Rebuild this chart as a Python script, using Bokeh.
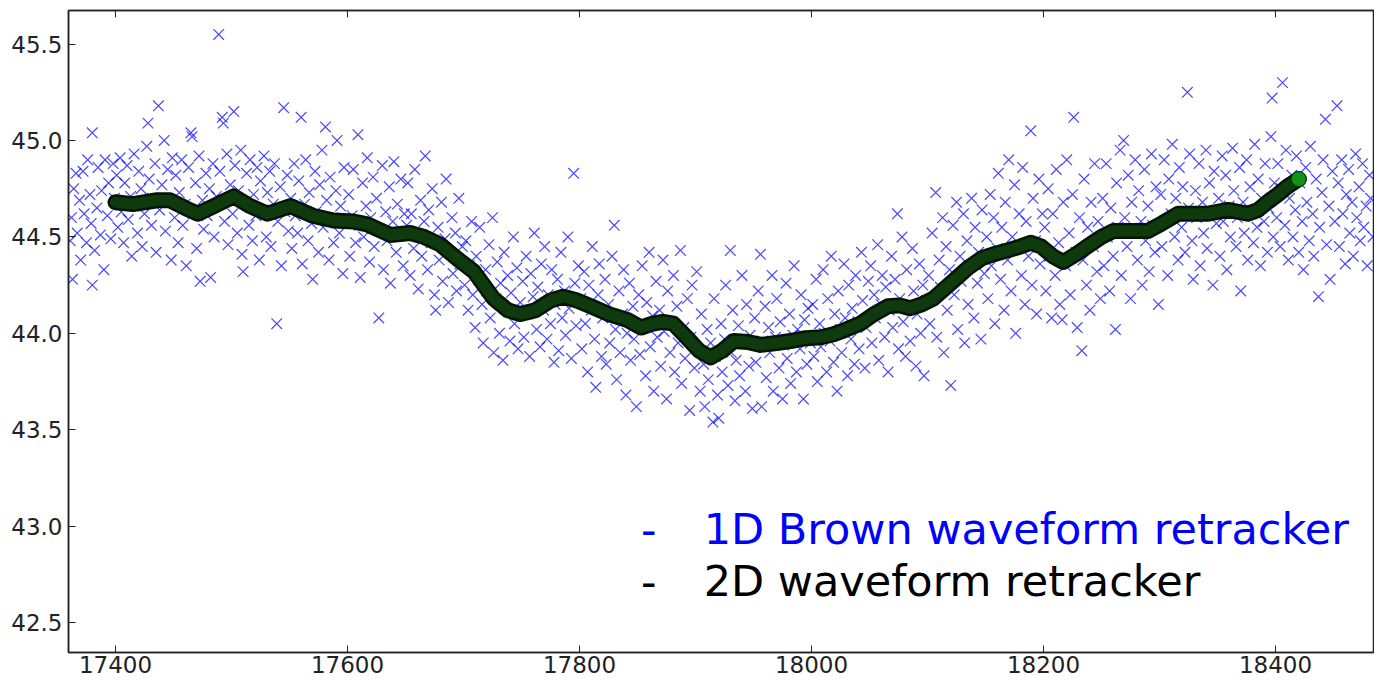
from bokeh.plotting import figure
from bokeh.models import Range1d, LinearAxis, FixedTicker, Label, NumeralTickFormatter
from bokeh.embed import file_html
from bokeh.resources import INLINE

# ---- 1D Brown waveform retracker (blue crosses) ----
scatter_1d = [
    (17361,44.48),(17362,44.60),(17363,44.28),(17364,44.75),(17366,44.83),(17367,44.52),(17369,44.69),(17370,44.38),(17372,44.84),(17373,44.62),(17375,44.47),(17376,44.90),(17378,44.72),(17379,44.57),(17380,45.04),(17380,44.25),(17382,44.43),(17384,44.65),(17385,44.86),(17387,44.51),(17388,44.74),(17390,44.33),(17391,44.90),(17393,44.61),(17394,44.78),(17396,44.49),(17398,44.88),(17399,44.70),
    (17401,44.82),(17402,44.55),(17404,44.91),(17405,44.63),(17407,44.47),(17408,44.78),(17410,44.87),(17411,44.59),(17413,44.71),(17414,44.40),(17416,44.93),(17417,44.66),(17419,44.52),(17420,44.84),(17422,44.75),(17423,44.45),(17425,44.62),(17427,44.97),(17428,45.09),(17429,44.80),(17431,44.56),(17432,44.70),(17434,44.88),(17435,44.42),(17437,45.18),(17438,44.64),(17440,44.77),(17442,45.00),(17443,44.53),(17445,44.85),(17446,44.68),(17448,44.38),(17449,44.91),
    (17451,44.60),(17452,44.82),(17454,44.47),(17455,44.73),(17457,44.90),(17458,44.56),(17460,44.67),(17461,44.35),(17463,44.86),(17465,45.04),(17466,45.02),(17467,44.62),(17469,44.78),(17470,44.44),(17472,44.92),(17473,44.27),(17475,44.69),(17476,44.54),(17478,44.83),(17479,44.61),(17481,44.75),(17482,44.29),(17484,44.88),(17485,44.50),(17487,44.71),(17489,45.55),(17490,44.84),(17492,45.12),(17493,45.09),(17494,44.58),(17496,44.93),(17497,44.46),(17499,44.77),
    (17501,44.62),(17502,45.15),(17503,44.87),(17505,44.52),(17506,44.74),(17508,44.95),(17509,44.41),(17510,44.32),(17512,44.68),(17513,44.83),(17515,44.56),(17516,44.90),(17518,44.48),(17519,44.72),(17521,44.61),(17522,44.86),(17524,44.38),(17525,44.79),(17527,44.64),(17528,44.92),(17530,44.50),(17531,44.73),(17533,44.84),(17534,44.45),(17536,44.67),(17537,44.88),(17539,44.05),(17540,44.58),(17542,44.76),(17543,44.35),(17545,45.17),(17546,44.63),(17548,44.82),(17549,44.53),
    (17551,44.70),(17552,44.44),(17554,44.88),(17555,44.61),(17557,44.52),(17558,44.79),(17560,45.12),(17561,44.36),(17563,44.67),(17564,44.90),(17566,44.48),(17567,44.73),(17569,44.57),(17570,44.28),(17572,44.84),(17573,44.63),(17575,44.42),(17576,44.77),(17578,44.95),(17579,44.55),(17581,45.07),(17582,44.69),(17584,44.38),(17585,44.81),(17587,44.60),(17588,44.47),(17590,44.74),(17591,45.00),(17593,44.52),(17594,44.66),(17596,44.31),(17597,44.86),(17599,44.58),
    (17601,44.72),(17602,44.40),(17604,44.61),(17605,44.85),(17607,44.47),(17609,45.03),(17610,44.56),(17611,44.29),(17613,44.78),(17614,44.50),(17616,44.66),(17617,44.91),(17619,44.37),(17620,44.60),(17622,44.81),(17623,44.45),(17625,44.70),(17627,44.08),(17628,44.54),(17630,44.87),(17631,44.33),(17633,44.63),(17634,44.48),(17636,44.76),(17637,44.26),(17639,44.58),(17640,44.89),(17642,44.42),(17643,44.67),(17645,44.51),(17646,44.80),(17648,44.35),(17649,44.62),
    (17651,44.56),(17652,44.78),(17654,44.30),(17655,44.62),(17657,44.44),(17658,44.85),(17660,44.51),(17661,44.23),(17663,44.69),(17664,44.40),(17666,44.58),(17667,44.92),(17669,44.33),(17670,44.64),(17672,44.47),(17673,44.75),(17675,44.20),(17676,44.12),(17678,44.55),(17679,44.38),(17681,44.68),(17682,44.27),(17684,44.49),(17685,44.80),(17687,44.16),(17688,44.42),(17690,44.60),(17691,44.31),(17693,44.52),(17694,44.22),(17696,44.70),(17697,44.36),(17699,44.45),
    (17701,44.25),(17702,44.48),(17704,44.12),(17705,44.35),(17707,44.58),(17708,44.20),(17710,44.03),(17711,44.40),(17713,44.28),(17714,44.55),(17716,44.15),(17717,43.95),(17719,44.33),(17720,44.22),(17722,44.46),(17723,44.08),(17725,44.60),(17726,43.90),(17728,44.18),(17729,44.37),(17731,44.00),(17732,44.26),(17734,43.86),(17735,44.42),(17737,44.13),(17738,44.30),(17740,43.96),(17741,44.21),(17743,44.50),(17744,44.05),(17746,44.34),(17747,43.92),(17749,44.16),
    (17751,44.27),(17752,43.98),(17754,44.40),(17755,44.10),(17757,43.88),(17758,44.31),(17760,44.19),(17761,44.52),(17763,44.02),(17764,44.24),(17766,43.93),(17767,44.36),(17769,44.12),(17770,44.45),(17772,43.97),(17773,44.20),(17775,44.05),(17776,44.33),(17778,43.85),(17779,44.15),(17781,44.28),(17782,43.91),(17784,44.42),(17785,44.08),(17787,44.22),(17788,43.99),(17790,44.50),(17791,44.13),(17793,43.87),(17795,44.83),(17796,44.26),(17797,44.04),(17799,44.35),
    (17801,44.18),(17802,43.92),(17804,44.32),(17805,44.05),(17807,43.80),(17808,44.25),(17810,44.12),(17811,44.45),(17813,43.97),(17814,43.72),(17816,44.20),(17817,44.36),(17819,43.88),(17820,44.08),(17822,44.28),(17823,43.84),(17825,44.15),(17826,43.95),(17828,44.40),(17830,44.56),(17831,44.02),(17832,43.76),(17834,44.22),(17835,43.90),(17837,44.10),(17838,44.33),(17840,43.68),(17841,44.00),(17843,44.26),(17844,43.86),(17846,44.14),(17847,43.97),(17849,43.62),
    (17851,44.20),(17852,43.89),(17854,44.35),(17855,44.04),(17857,43.78),(17858,44.16),(17860,44.42),(17861,43.93),(17863,44.09),(17864,43.70),(17866,44.27),(17867,43.98),(17869,44.12),(17870,43.83),(17872,44.38),(17873,44.01),(17875,43.66),(17876,44.22),(17878,43.90),(17879,44.06),(17881,44.30),(17882,43.80),(17884,44.14),(17885,43.95),(17887,44.43),(17888,43.74),(17890,44.03),(17891,43.87),(17893,44.18),(17895,43.60),(17896,43.98),(17897,44.25),(17899,43.82),
    (17901,44.32),(17902,43.92),(17904,43.70),(17905,44.10),(17907,43.84),(17908,43.62),(17910,44.02),(17911,43.76),(17913,43.95),(17915,43.54),(17916,44.18),(17917,43.88),(17919,43.68),(17920,43.56),(17922,44.05),(17923,43.80),(17925,43.97),(17926,44.25),(17928,43.73),(17930,44.43),(17931,43.90),(17932,44.12),(17934,43.65),(17935,43.86),(17937,44.04),(17938,43.78),(17940,44.30),(17941,43.95),(17943,43.70),(17944,44.15),(17946,43.83),(17947,43.99),(17949,43.61),
    (17951,44.08),(17952,43.85),(17954,44.22),(17956,44.41),(17957,43.62),(17958,43.96),(17960,44.14),(17961,43.77),(17963,44.03),(17964,43.90),(17966,44.30),(17967,43.70),(17969,43.98),(17970,44.18),(17972,43.82),(17973,44.06),(17975,43.66),(17976,43.94),(17978,44.26),(17979,43.87),(17981,44.10),(17982,43.74),(17984,43.99),(17985,44.35),(17987,43.80),(17988,44.02),(17990,43.92),(17991,44.20),(17993,43.66),(17994,44.07),(17996,43.84),(17997,44.13),(17999,43.95),
    (18001,44.15),(18002,43.88),(18004,44.28),(18005,43.75),(18007,44.05),(18008,43.93),(18010,44.33),(18011,44.00),(18013,43.80),(18014,44.18),(18016,43.96),(18017,44.40),(18019,43.85),(18020,44.10),(18022,43.70),(18023,44.22),(18025,44.02),(18026,43.90),(18028,44.36),(18029,44.08),(18031,43.78),(18032,44.25),(18034,43.97),(18035,44.13),(18037,43.84),(18038,44.30),(18040,44.06),(18041,43.92),(18043,44.42),(18044,44.17),(18046,43.82),(18047,44.03),(18049,44.27),
    (18051,44.35),(18052,43.95),(18054,44.20),(18055,44.08),(18057,44.46),(18058,43.86),(18060,44.15),(18061,44.30),(18063,43.98),(18064,44.24),(18066,43.80),(18067,44.12),(18069,44.40),(18070,44.03),(18072,44.28),(18074,44.62),(18075,43.92),(18076,44.18),(18078,44.50),(18079,44.06),(18081,43.88),(18082,44.33),(18084,44.14),(18085,43.96),(18087,44.44),(18088,44.22),(18090,43.83),(18091,44.10),(18093,44.36),(18094,44.00),(18096,44.25),(18097,43.78),(18099,44.17),
    (18101,44.30),(18102,44.05),(18104,44.52),(18105,44.18),(18107,44.73),(18108,43.98),(18110,44.38),(18111,44.24),(18113,44.60),(18114,43.90),(18116,44.45),(18117,44.12),(18119,44.33),(18120,43.73),(18122,44.56),(18123,44.20),(18125,44.68),(18126,44.02),(18128,44.40),(18129,44.27),(18131,44.62),(18132,43.95),(18134,44.48),(18135,44.15),(18137,44.35),(18138,44.70),(18140,44.08),(18141,44.55),(18143,44.26),(18144,44.42),(18146,43.97),(18147,44.64),(18149,44.31),
    (18151,44.50),(18152,44.18),(18154,44.72),(18155,44.35),(18157,44.60),(18158,44.05),(18160,44.44),(18161,44.83),(18163,44.28),(18164,44.55),(18166,44.12),(18167,44.68),(18169,44.38),(18170,44.90),(18172,44.22),(18173,44.50),(18175,44.77),(18176,44.00),(18178,44.45),(18179,44.62),(18181,44.30),(18182,44.86),(18184,44.15),(18185,44.58),(18187,44.40),(18189,45.05),(18190,44.25),(18191,44.70),(18193,44.48),(18194,44.10),(18196,44.80),(18197,44.36),(18199,44.62),
    (18201,44.55),(18202,44.22),(18204,44.75),(18205,44.40),(18207,44.08),(18208,44.62),(18210,44.30),(18211,44.85),(18213,44.47),(18214,44.15),(18216,44.07),(18217,44.68),(18219,44.35),(18220,44.90),(18222,44.52),(18223,44.20),(18225,44.72),(18226,45.12),(18228,44.42),(18229,44.03),(18231,44.60),(18233,43.91),(18234,44.38),(18235,44.80),(18237,44.25),(18238,44.55),(18240,44.12),(18241,44.68),(18243,44.45),(18244,44.88),(18246,44.32),(18247,44.58),(18249,44.18),
    (18251,44.70),(18252,44.35),(18254,44.88),(18255,44.50),(18257,44.22),(18258,44.65),(18260,44.40),(18262,44.02),(18263,44.78),(18264,44.55),(18266,44.95),(18267,44.30),(18269,45.00),(18270,44.60),(18272,44.45),(18273,44.82),(18275,44.18),(18276,44.68),(18278,44.52),(18279,44.90),(18281,44.38),(18282,44.74),(18284,44.58),(18285,44.25),(18287,44.85),(18288,44.48),(18290,44.66),(18291,44.32),(18293,44.93),(18294,44.56),(18296,44.42),(18297,44.76),(18299,44.15),
    (18301,44.72),(18302,44.45),(18304,44.90),(18305,44.58),(18307,44.30),(18308,44.80),(18310,44.62),(18311,44.98),(18313,44.50),(18314,44.70),(18316,44.38),(18317,44.86),(18319,44.55),(18320,44.76),(18322,44.42),(18324,45.25),(18325,44.65),(18326,44.93),(18328,44.48),(18329,44.28),(18331,44.74),(18332,44.60),(18334,44.88),(18335,44.35),(18337,44.68),(18338,44.52),(18340,44.95),(18341,44.44),(18343,44.78),(18344,44.62),(18346,44.25),(18347,44.84),(18349,44.57),
    (18351,44.70),(18352,44.40),(18354,44.92),(18355,44.58),(18357,44.82),(18358,44.33),(18360,44.66),(18361,44.50),(18363,44.96),(18364,44.74),(18366,44.45),(18367,44.60),(18369,44.86),(18370,44.22),(18372,44.68),(18373,44.52),(18375,44.90),(18376,44.38),(18378,44.76),(18379,44.62),(18381,44.47),(18382,44.98),(18384,44.55),(18385,44.80),(18387,44.35),(18388,44.70),(18390,44.58),(18391,44.88),(18393,44.42),(18394,44.65),(18396,45.02),(18397,45.22),(18398,44.50),(18399,44.78),
    (18401,44.60),(18402,44.88),(18404,44.45),(18405,44.75),(18406,45.30),(18408,44.56),(18409,44.95),(18411,44.38),(18412,44.70),(18414,44.82),(18415,44.50),(18417,44.64),(18418,44.92),(18420,44.42),(18421,44.78),(18423,44.58),(18424,44.33),(18426,44.86),(18427,44.68),(18429,44.48),(18430,44.97),(18432,44.62),(18433,44.40),(18435,44.80),(18437,44.19),(18438,44.55),(18440,44.73),(18441,44.90),(18443,45.11),(18444,44.46),(18446,44.66),(18447,44.28),(18449,44.84),
    (18451,44.58),(18453,45.18),(18454,44.78),(18455,44.45),(18457,44.90),(18458,44.62),(18460,44.36),(18461,44.72),(18463,44.85),(18464,44.52),(18466,44.68),(18467,44.40),(18469,44.93),(18470,44.60),(18472,44.76),(18473,44.48),(18475,44.88),(18476,44.55),(18478,44.66),(18479,44.35),(18481,44.82),(18482,44.70),(18484,44.50),
]
x_1d = [p[0] for p in scatter_1d]
y_1d = [p[1] for p in scatter_1d]

# ---- 2D waveform retracker (thick green/black curve) ----
x_2d = [17400,17415,17436,17447,17460,17471,17485,17502,17516,17531,17551,17570,17588,17605,17617,
        17637,17654,17666,17680,17694,17709,17726,17738,17749,17762,17775,17786,17798,17810,17825,
        17841,17853,17863,17872,17881,17893,17903,17913,17923,17933,17945,17956,17970,17982,17995,
        18008,18019,18030,18042,18054,18066,18076,18085,18095,18105,18120,18135,18147,18157,18169,
        18180,18189,18198,18208,18217,18228,18240,18250,18260,18275,18290,18302,18316,18330,18341,
        18359,18376,18385,18393,18402,18410,18420]
y_2d = [44.68,44.67,44.69,44.69,44.65,44.62,44.66,44.71,44.66,44.62,44.66,44.61,44.585,44.58,44.565,
        44.51,44.52,44.50,44.46,44.39,44.32,44.18,44.12,44.10,44.12,44.17,44.19,44.17,44.14,44.10,
        44.07,44.03,44.05,44.06,44.05,43.975,43.91,43.875,43.91,43.96,43.955,43.94,43.95,43.96,43.975,
        43.98,43.995,44.02,44.05,44.10,44.14,44.145,44.13,44.15,44.18,44.26,44.34,44.39,44.41,44.43,
        44.45,44.47,44.45,44.40,44.37,44.41,44.46,44.50,44.53,44.53,44.53,44.57,44.62,44.62,44.62,
        44.64,44.62,44.64,44.68,44.72,44.76,44.80]

x_ticks = [17400, 17600, 17800, 18000, 18200, 18400]
y_ticks = [42.5, 43.0, 43.5, 44.0, 44.5, 45.0, 45.5]

legend_labels = ["1D Brown waveform retracker", "2D waveform retracker"]
legend_colors = ["#0000ff", "#000000"]

TICK_FONT = "DejaVu Sans"

p = figure(width=1374, height=680, output_backend="svg", toolbar_location=None,
           x_range=Range1d(17359.5, 18485.3), y_range=Range1d(42.345, 45.674),
           min_border_left=68, min_border_right=0, min_border_top=10, min_border_bottom=28,
           x_axis_location=None, y_axis_location=None)
p.background_fill_color = "white"
p.border_fill_color = "white"
p.grid.visible = False
p.outline_line_color = "#222222"
p.outline_line_width = 1.5

left = LinearAxis(ticker=FixedTicker(ticks=y_ticks), formatter=NumeralTickFormatter(format="0.0"))
below = LinearAxis(ticker=FixedTicker(ticks=x_ticks))
above = LinearAxis(ticker=FixedTicker(ticks=x_ticks),
                   major_label_overrides={t: "" for t in x_ticks})
for ax in (left, below, above):
    ax.major_tick_in = 7
    ax.major_tick_out = 0
    ax.minor_tick_line_color = None
    ax.axis_line_color = "#222222"
    ax.axis_line_width = 1.5
    ax.major_tick_line_color = "#222222"
    ax.major_tick_line_width = 1
    ax.major_label_text_font = TICK_FONT
    ax.major_label_text_font_size = "23px"
    ax.major_label_text_color = "#222222"
left.major_label_standoff = 6
below.major_label_standoff = 3
above.major_label_standoff = 0
p.add_layout(left, "left")
p.add_layout(below, "below")
p.add_layout(above, "above")

# blue crosses
p.scatter(x_1d, y_1d, marker="x", size=15, line_color="#0000ff", line_alpha=0.72, line_width=1.2)

# thick 2D curve
p.line(x_2d, y_2d, line_width=16, line_color="#051505", line_join="round", line_cap="round")
p.line(x_2d, y_2d, line_width=11, line_color="#0e3a0e", line_join="round", line_cap="round")
p.scatter(x_2d[-1:], y_2d[-1:], marker="circle", size=15, fill_color="#149414",
          line_color="#0a300a", line_width=1)

# legend text
dash_x = 17853
text_x = 17907
base_y = [42.985, 42.715]
for lbl, col, by in zip(legend_labels, legend_colors, base_y):
    for tx, tt in ((dash_x, "-"), (text_x, lbl)):
        p.add_layout(Label(x=tx, y=by, text=tt, text_color=col, text_font="DejaVu Sans",
                           text_font_size="43px", text_baseline="alphabetic", text_align="left"))

open("out.html", "w").write(file_html(p, INLINE))
